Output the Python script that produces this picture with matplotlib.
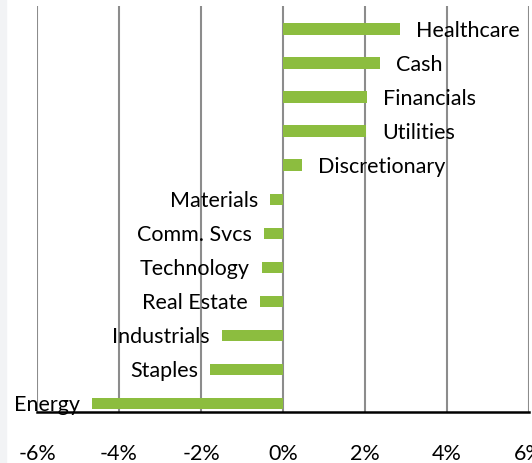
import matplotlib
matplotlib.use("Agg")
import matplotlib.pyplot as plt
from matplotlib.patches import Rectangle

# sector weights vs benchmark (%), top to bottom
sectors = ["Healthcare", "Cash", "Financials", "Utilities", "Discretionary",
           "Materials", "Comm. Svcs", "Technology", "Real Estate",
           "Industrials", "Staples", "Energy"]
values = [2.85, 2.37, 2.06, 2.03, 0.46, -0.31, -0.46, -0.52, -0.56,
          -1.49, -1.78, -4.65]
ticks = [-6, -4, -2, 0, 2, 4, 6]
tick_labels = ["-6%", "-4%", "-2%", "0%", "2%", "4%", "6%"]

plt.rcParams["font.family"] = ["Lato", "DejaVu Sans"]

fig = plt.figure(figsize=(5.32, 4.64), dpi=100)
# thin grey strip on the left edge
fig.patches.append(Rectangle((0, 0), 6 / 532, 1, transform=fig.transFigure,
                             color="#f2f3f5", zorder=0))
ax = fig.add_axes([37 / 532, 51 / 464, 492 / 532, 406 / 464])

ypos = list(range(len(sectors)))[::-1]
ax.barh(ypos, values, height=0.34, color="#8cbd3f", zorder=3)

for y, v, name in zip(ypos, values, sectors):
    if v >= 0:
        ax.annotate(name, (v, y), xytext=(16, -1), textcoords="offset pixels",
                    ha="left", va="center", fontsize=15.5, color="black")
    else:
        ax.annotate(name, (v, y), xytext=(-12, -1), textcoords="offset pixels",
                    ha="right", va="center", fontsize=15.5, color="black")

ax.set_xlim(-6, 6)
ax.set_ylim(-0.25, 11.68)
ax.set_xticks(ticks)
ax.set_xticklabels(tick_labels, fontsize=15.5)
ax.set_yticks([])
ax.tick_params(axis="x", length=0, pad=22)
ax.xaxis.grid(True, color="#8c8c8c", linewidth=1.5, zorder=0)
for s in ["top", "left", "right"]:
    ax.spines[s].set_visible(False)
ax.spines["bottom"].set_linewidth(1.8)
ax.spines["bottom"].set_color("black")
ax.spines["bottom"].set_zorder(4)

fig.savefig("out.png", dpi=100)
